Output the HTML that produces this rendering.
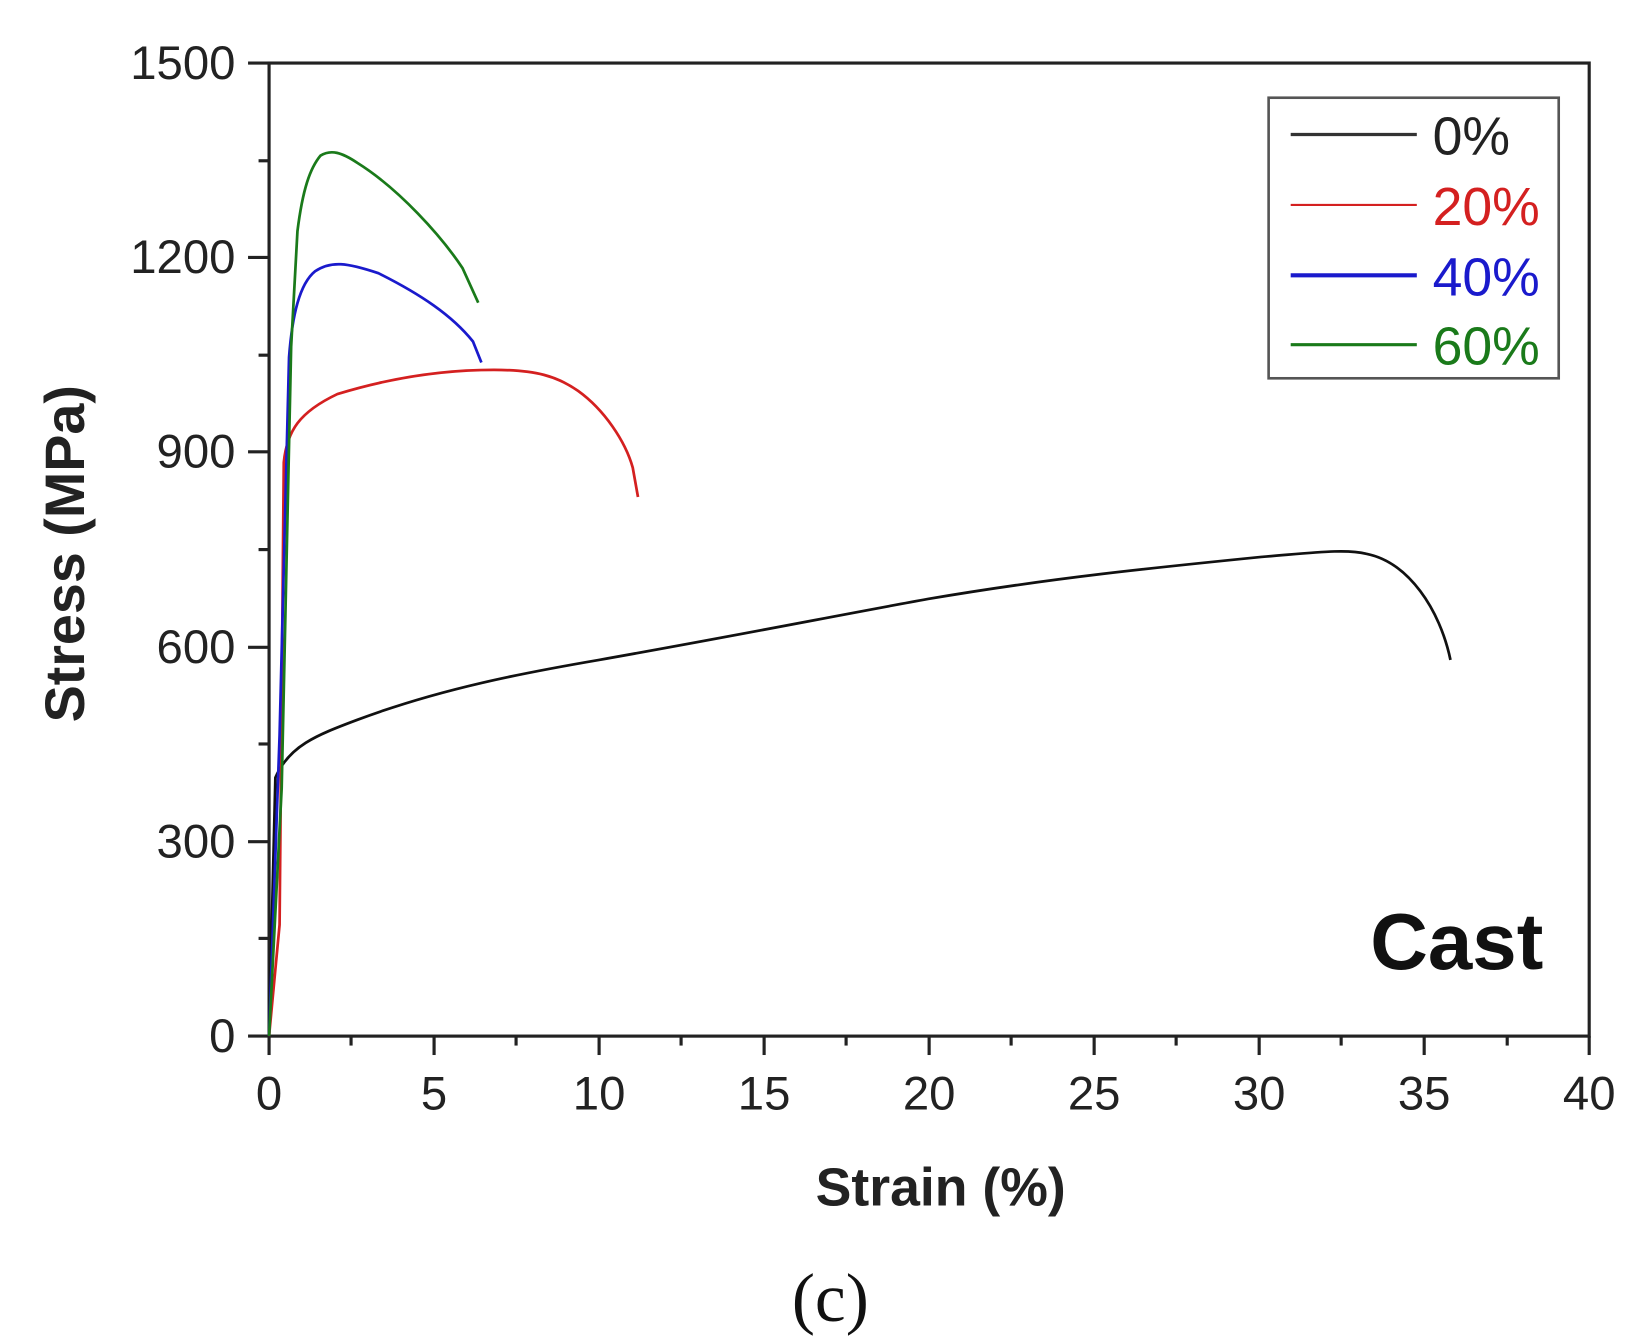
<!DOCTYPE html>
<html><head><meta charset="utf-8"><style>
html,body{margin:0;padding:0;background:#fff;}
svg{display:block;}
</style></head><body>
<svg width="1647" height="1344" viewBox="0 0 1567 1279" preserveAspectRatio="none" xmlns="http://www.w3.org/2000/svg">
<rect width="1567" height="1279" fill="#fff"/>
<rect x="256" y="60" width="1256" height="926" fill="none" stroke="#222" stroke-width="3"/>
<g stroke="#222" stroke-width="3">
<line x1="236" y1="60" x2="256" y2="60"/>
<line x1="236" y1="245" x2="256" y2="245"/>
<line x1="236" y1="430" x2="256" y2="430"/>
<line x1="236" y1="616" x2="256" y2="616"/>
<line x1="236" y1="801" x2="256" y2="801"/>
<line x1="236" y1="986" x2="256" y2="986"/>
<line x1="246" y1="153" x2="256" y2="153"/>
<line x1="246" y1="338" x2="256" y2="338"/>
<line x1="246" y1="523" x2="256" y2="523"/>
<line x1="246" y1="708" x2="256" y2="708"/>
<line x1="246" y1="893" x2="256" y2="893"/>
<line x1="256" y1="986" x2="256" y2="1004"/>
<line x1="413" y1="986" x2="413" y2="1004"/>
<line x1="570" y1="986" x2="570" y2="1004"/>
<line x1="727" y1="986" x2="727" y2="1004"/>
<line x1="884" y1="986" x2="884" y2="1004"/>
<line x1="1041" y1="986" x2="1041" y2="1004"/>
<line x1="1198" y1="986" x2="1198" y2="1004"/>
<line x1="1355" y1="986" x2="1355" y2="1004"/>
<line x1="1512" y1="986" x2="1512" y2="1004"/>
<line x1="334" y1="986" x2="334" y2="995"/>
<line x1="491" y1="986" x2="491" y2="995"/>
<line x1="648" y1="986" x2="648" y2="995"/>
<line x1="805" y1="986" x2="805" y2="995"/>
<line x1="962" y1="986" x2="962" y2="995"/>
<line x1="1119" y1="986" x2="1119" y2="995"/>
<line x1="1276" y1="986" x2="1276" y2="995"/>
<line x1="1434" y1="986" x2="1434" y2="995"/>
</g>
<g font-family="Liberation Sans, sans-serif" font-size="45" fill="#222" text-anchor="end">
<text x="224" y="75">1500</text>
<text x="224" y="260">1200</text>
<text x="224" y="445">900</text>
<text x="224" y="631">600</text>
<text x="224" y="816">300</text>
<text x="224" y="1001">0</text>
</g>
<g font-family="Liberation Sans, sans-serif" font-size="45" fill="#222" text-anchor="middle">
<text x="256" y="1056">0</text>
<text x="413" y="1056">5</text>
<text x="570" y="1056">10</text>
<text x="727" y="1056">15</text>
<text x="884" y="1056">20</text>
<text x="1041" y="1056">25</text>
<text x="1198" y="1056">30</text>
<text x="1355" y="1056">35</text>
<text x="1512" y="1056">40</text>
</g>
<text x="895" y="1147" font-family="Liberation Sans, sans-serif" font-weight="bold" font-size="51" fill="#222" text-anchor="middle">Strain (%)</text>
<text transform="translate(80,527) rotate(-90)" font-family="Liberation Sans, sans-serif" font-weight="bold" font-size="53" fill="#222" text-anchor="middle">Stress (MPa)</text>
<text x="1386" y="922" font-family="Liberation Sans, sans-serif" font-weight="bold" font-size="76" fill="#111" text-anchor="middle">Cast</text>
<text x="790" y="1257" font-family="Liberation Serif, serif" font-size="66" fill="#111" text-anchor="middle">(c)</text>
<g fill="none" stroke-width="2.6" stroke-linejoin="round">
<path stroke="#111" d="M256,986 L262,740 C275,710 300,700 340,685 C420,655 500,640 570,628 C700,605 800,585 883,570 C1000,550 1100,540 1200,530 C1250,526 1280,522 1300,527 C1340,535 1370,580 1380,628"/>
<path stroke="#d42020" d="M256,986 L266,880 L270,440 C273,410 285,392 321,375 C370,360 420,352 470,352 C510,352 530,358 550,372 C575,390 595,420 602,445 L607,473"/>
<path stroke="#1a1acc" d="M256,986 L266,700 L275,340 C278,300 285,270 300,258 C315,248 330,250 360,260 C400,280 430,300 450,325 L458,345"/>
<path stroke="#1a7a1a" d="M256,986 L268,750 L277,330 L283,220 C288,180 295,160 305,148 C315,142 325,145 340,155 C380,180 420,225 440,255 L455,288"/>
</g>
<rect x="1207" y="93" width="276" height="267" fill="#fff" stroke="#555" stroke-width="2.5"/>
<g stroke-width="3">
<line x1="1228" y1="128" x2="1348" y2="128" stroke="#333"/>
<line x1="1228" y1="195" x2="1348" y2="195" stroke="#d42020" stroke-width="2"/>
<line x1="1228" y1="262" x2="1348" y2="262" stroke="#1a1acc" stroke-width="4"/>
<line x1="1228" y1="328" x2="1348" y2="328" stroke="#1a7a1a"/>
</g>
<g font-family="Liberation Sans, sans-serif" font-size="51">
<text x="1363" y="147" fill="#222">0%</text>
<text x="1363" y="214" fill="#d42020">20%</text>
<text x="1363" y="281" fill="#1a1acc">40%</text>
<text x="1363" y="347" fill="#1a7a1a">60%</text>
</g>
</svg>
</body></html>
